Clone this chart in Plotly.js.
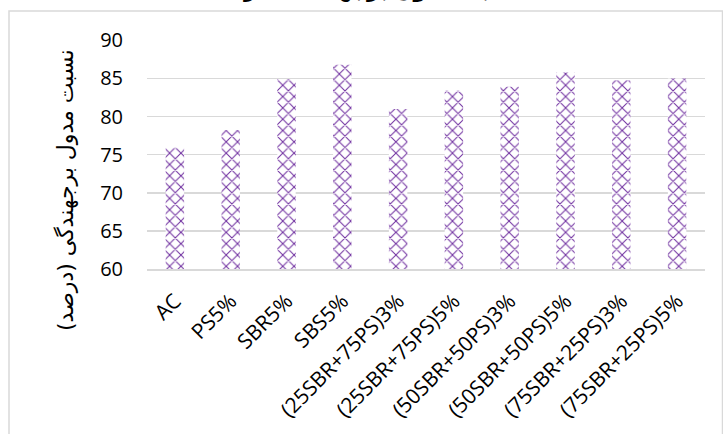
<!DOCTYPE html>
<html>
<head>
<meta charset="utf-8">
<script src="https://cdn.plot.ly/plotly-3.0.1.min.js"></script>
<style>html,body{margin:0;padding:0;background:#fff;}#chart{width:723px;height:434px;}</style>
</head>
<body>
<div id="chart"></div>
<script>
const categories = ["AC", "PS5%", "SBR5%", "SBS5%", "(25SBR+75PS)3%", "(25SBR+75PS)5%", "(50SBR+50PS)3%", "(50SBR+50PS)5%", "(75SBR+25PS)3%", "(75SBR+25PS)5%"];
const values = [75.9, 78.2, 84.9, 86.8, 81.0, 83.4, 83.9, 85.8, 84.8, 85.0];
const yTickVals = [60, 65, 70, 75, 80, 85, 90];
const yTitle = "نسبت مدول برجهندگی (درصد)";
const chartTitle = "نسبت مدول برجهندگی (درصد)";

const L = 147, R = 18, T = 40, B = 165;
const W = 723 - L - R, H = 434 - T - B;
const px = x => (x - L) / W;
const py = y => (434 - B - y) / H;

const trace = {
  type: "bar",
  x: categories,
  y: values,
  marker: {
    color: "#ffffff",
    line: {width: 0},
    pattern: {shape: "x", fgcolor: "#7030A0", bgcolor: "#ffffff", size: 8, solidity: 0.24}
  },
  hoverinfo: "x+y"
};

const layout = {
  width: 723, height: 434,
  margin: {l: L, r: R, t: T, b: B, pad: 0},
  paper_bgcolor: "#ffffff", plot_bgcolor: "#ffffff",
  font: {family: "Open Sans, Noto Sans, DejaVu Sans, sans-serif", color: "#000000", size: 19},
  showlegend: false,
  bargap: 0.67,
  xaxis: {
    type: "category",
    tickangle: -45,
    showgrid: false,
    showline: true, linecolor: "#d9d9d9", linewidth: 1.5,
    ticks: "",
    ticklabelstandoff: 10,
    tickfont: {size: 21, color: "#000"},
    fixedrange: true
  },
  yaxis: {
    range: [60, 90.05],
    tickvals: yTickVals,
    ticktext: yTickVals.map(String),
    showgrid: true, gridcolor: "#d9d9d9", gridwidth: 1.5,
    zeroline: false, showline: false, ticks: "",
    ticklabelstandoff: 23,
    tickfont: {size: 20, color: "#000"},
    fixedrange: true
  },
  shapes: [{
    type: "rect", xref: "paper", yref: "paper",
    x0: px(9), x1: px(722.5), y0: py(445), y1: py(11),
    line: {color: "#d9d9d9", width: 1.5}, fillcolor: "rgba(0,0,0,0)", layer: "below"
  }],
  annotations: [
    {
      text: yTitle, xref: "paper", yref: "paper",
      x: px(65), y: py(190), xanchor: "center", yanchor: "middle",
      textangle: -90, showarrow: false,
      font: {size: 22, color: "#000", family: "DejaVu Sans, Noto Sans, sans-serif"}
    },
    {
      text: "<b>" + chartTitle + "</b>", xref: "paper", yref: "paper",
      x: px(360), y: py(4), xanchor: "center", yanchor: "bottom",
      showarrow: false,
      font: {size: 21, color: "#000", family: "DejaVu Sans, Noto Sans, sans-serif"}
    }
  ]
};

Plotly.newPlot("chart", [trace], layout, {displayModeBar: false, staticPlot: true});
</script>
</body>
</html>
